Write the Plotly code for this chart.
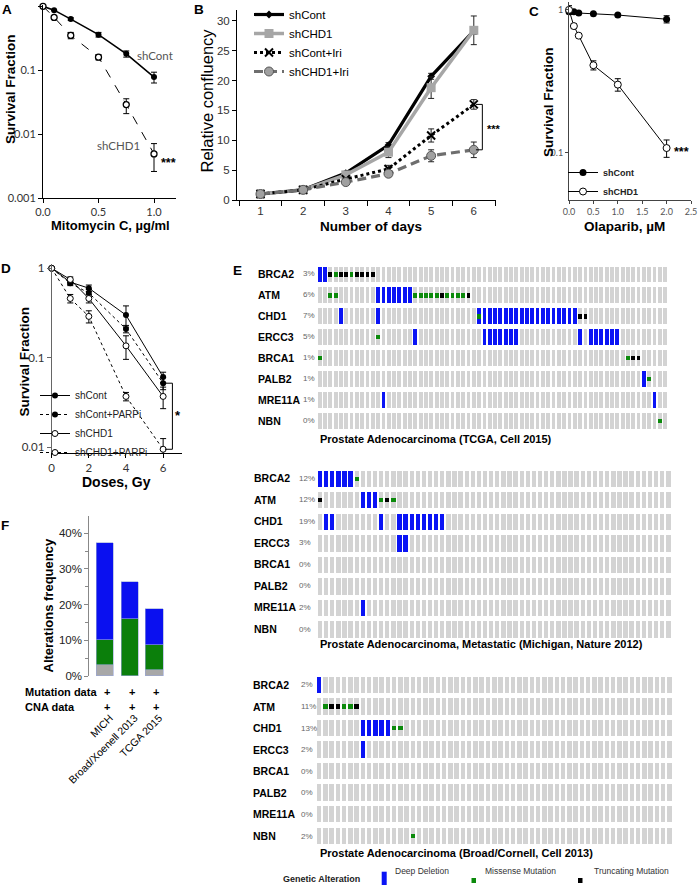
import plotly.graph_objects as go

W, H = 699, 894


def px_x(p):
    return p / W


def px_y(p):
    return 1 - p / H


def dom_x(a, b):
    return [a / W, b / W]


def dom_y(top, bottom):
    return [1 - bottom / H, 1 - top / H]


SANS = "Liberation Sans, Arial, Helvetica, sans-serif"
NARROW = "Liberation Sans Narrow, Arial Narrow, Liberation Sans, sans-serif"
TICKF = "Lato, Liberation Sans, sans-serif"

# ================= DATA =================
# --- Panel A: Mitomycin C survival
mmc_dose = [0.0, 0.1, 0.25, 0.5, 0.75, 1.0]
a_shcont = [1.0, 0.87, 0.63, 0.36, 0.18, 0.078]
a_shcont_up = [0, 0, 0.03, 0.03, 0.02, 0.015]
a_shcont_dn = [0, 0, 0.03, 0.03, 0.02, 0.015]
a_shchd1 = [1.0, 0.67, 0.35, 0.16, 0.029, 0.0049]
a_shchd1_up = [0, 0, 0.04, 0.015, 0.0067, 0.0022]
a_shchd1_dn = [0, 0, 0.04, 0.015, 0.0081, 0.0023]
a_yticks = [1, 0.1, 0.01, 0.001]
a_yticktext = ["1", "0.1", "0.01", "0.001"]
a_xticks = [0.0, 0.5, 1.0]
a_xticktext = ["0.0", "0.5", "1.0"]

# --- Panel B: relative confluency
days = [1, 2, 3, 4, 5, 6]
b_shcont = [1.0, 1.7, 4.5, 9.2, 20.7, 28.3]
b_shcont_err = [0.1, 0.1, 0.3, 0.4, 0.5, 0.6]
b_shchd1 = [1.0, 1.7, 4.2, 8.0, 18.8, 28.4]
b_shchd1_err = [0.1, 0.1, 0.3, 0.9, 1.8, 2.4]
b_shcont_iri = [1.0, 1.7, 3.5, 5.2, 10.8, 16.0]
b_shcont_iri_err = [0.1, 0.1, 0.2, 0.6, 1.1, 0.8]
b_shchd1_iri = [1.0, 1.7, 3.0, 4.4, 7.4, 8.4]
b_shchd1_iri_err = [0.1, 0.1, 0.3, 0.5, 1.0, 1.3]

# --- Panel C: Olaparib survival
ola_dose = [0.0, 0.1, 0.2, 0.5, 1.0, 2.0]
c_shcont = [0.97, 0.97, 0.95, 0.94, 0.92, 0.86]
c_shcont_err = [0.03, 0, 0, 0, 0, 0.05]
c_shchd1 = [1.0, 0.77, 0.66, 0.41, 0.30, 0.108]
c_shchd1_err = [0.07, 0.03, 0, 0.03, 0.03, 0.015]

# --- Panel D: irradiation survival
ir_dose = [0, 1, 2, 4, 6]
d_shcont = [1.0, 0.70, 0.60, 0.30, 0.061]
d_shcont_err = [0, 0.04, 0.05, 0.08, 0.008]
d_shcont_parpi = [1.0, 0.68, 0.53, 0.21, 0.052]
d_shcont_parpi_err = [0, 0.04, 0.05, 0.02, 0.008]
d_shchd1 = [1.0, 0.75, 0.46, 0.136, 0.037]
d_shchd1_err = [0, 0.05, 0.05, 0.04, 0.01]
d_shchd1_parpi = [1.0, 0.46, 0.29, 0.037, 0.0095]
d_shchd1_parpi_err = [0, 0.05, 0.045, 0.004, 0.003]

# --- Panel F: alteration frequency
f_studies = ["MICH", "Broad/Xoenell 2013", "TCGA 2015"]
f_multiple = [0.031, 0.0, 0.017]
f_mutation = [0.069, 0.159, 0.071]
f_deletion = [0.273, 0.105, 0.099]
f_mutation_data = ["+", "+", "+"]
f_cna_data = ["+", "+", "+"]

# --- Panel E: oncoprints
genes = ["BRCA2", "ATM", "CHD1", "ERCC3", "BRCA1", "PALB2", "MRE11A", "NBN"]

tcga_cases = 66
tcga_pct = ["3%", "6%", "7%", "5%", "1%", "1%", "1%", "0%"]
tcga_deep_del = {
    "BRCA2": [0, 1],
    "ATM": [11, 12, 13, 14, 15, 16, 17],
    "CHD1": [4, 11, 30, 31, 32, 33, 34, 35, 36, 37, 38, 39, 40, 41, 42, 43, 44, 45, 46, 47, 48],
    "ERCC3": [18, 31, 32, 33, 34, 35, 36, 37, 49, 51, 52, 53, 54, 55, 56],
    "PALB2": [61],
    "MRE11A": [12, 63],
}
tcga_missense = {
    "BRCA2": [3, 6],
    "ATM": [2, 3, 18, 19, 20, 21, 22, 24, 25, 26, 27],
    "CHD1": [30],
    "ERCC3": [11],
    "BRCA1": [0, 58],
    "PALB2": [62],
    "NBN": [64],
}
tcga_truncating = {
    "BRCA2": [2, 4, 5, 7, 8, 9, 10],
    "ATM": [23, 28],
    "CHD1": [49, 50],
    "BRCA1": [59, 60],
}
tcga_title = "Prostate Adenocarcinoma (TCGA, Cell 2015)"

mich_cases = 58
mich_pct = ["12%", "12%", "19%", "3%", "0%", "0%", "2%", "0%"]
mich_deep_del = {
    "BRCA2": [0, 1, 2, 3, 4, 5],
    "ATM": [7, 8, 9],
    "CHD1": [1, 2, 10, 13, 14, 15, 16, 17, 18, 19, 20],
    "ERCC3": [13, 14],
    "MRE11A": [7],
}
mich_missense = {"BRCA2": [6], "ATM": [10, 12]}
mich_truncating = {"ATM": [0, 11]}
mich_title = "Prostate Adenocarcinoma, Metastatic (Michigan, Nature 2012)"

broad_cases = 57
broad_pct = ["2%", "11%", "13%", "2%", "0%", "0%", "0%", "2%"]
broad_deep_del = {"BRCA2": [0], "CHD1": [7, 8, 9, 10, 11], "ERCC3": [7]}
broad_missense = {"ATM": [1, 4, 5], "CHD1": [12, 13], "NBN": [15]}
broad_truncating = {"ATM": [2, 3, 6]}
broad_title = "Prostate Adenocarcinoma (Broad/Cornell, Cell 2013)"

alteration_types = ["Deep Deletion", "Missense Mutation", "Truncating Mutation"]

# ================= STYLE =================
C_GREY = "#d3d3d3"
C_BLUE = "#0a14f5"
C_GREEN = "#0b8a0b"
C_BLACK = "#000000"
CELL_H = 0.76
SQ_H = 0.2
BAR_W = 0.72

fig = go.Figure()


def ebar(up, dn=None, color="black", width=3):
    d = dict(type="data", array=up, color=color, thickness=1, width=width, visible=True)
    if dn is not None:
        d["symmetric"] = False
        d["arrayminus"] = dn
    return d


# ---------- Panel A ----------
fig.add_trace(go.Scatter(
    x=mmc_dose, y=a_shcont, name="shCont", mode="lines+markers",
    line=dict(color="black", width=1.6),
    marker=dict(symbol="circle", size=6, color="black"),
    error_y=ebar(a_shcont_up, a_shcont_dn),
    xaxis="x", yaxis="y", showlegend=False, cliponaxis=False))
fig.add_trace(go.Scatter(
    x=mmc_dose, y=a_shchd1, name="shCHD1", mode="lines+markers",
    line=dict(color="black", width=1, dash="dash"),
    marker=dict(symbol="circle", size=6, color="white", line=dict(color="black", width=1.3)),
    error_y=ebar(a_shchd1_up, a_shchd1_dn),
    xaxis="x", yaxis="y", showlegend=False, cliponaxis=False))

# ---------- Panel B ----------
fig.add_trace(go.Scatter(
    x=days, y=b_shcont, name="shCont", mode="lines+markers",
    line=dict(color="black", width=3.2),
    marker=dict(symbol="diamond", size=6, color="black"),
    error_y=ebar(b_shcont_err, color="#222"),
    xaxis="x2", yaxis="y2", legend="legend", cliponaxis=False))
fig.add_trace(go.Scatter(
    x=days, y=b_shchd1, name="shCHD1", mode="lines+markers",
    line=dict(color="#a6a6a6", width=3.5),
    marker=dict(symbol="square", size=9, color="#a6a6a6"),
    error_y=ebar(b_shchd1_err, color="#222"),
    xaxis="x2", yaxis="y2", legend="legend", cliponaxis=False))
fig.add_trace(go.Scatter(
    x=days, y=b_shcont_iri, name="shCont+Iri", mode="lines+markers",
    line=dict(color="black", width=3, dash="dot"),
    marker=dict(symbol="x-thin", size=8, color="black", line=dict(color="black", width=2)),
    error_y=ebar(b_shcont_iri_err, color="#222"),
    xaxis="x2", yaxis="y2", legend="legend", cliponaxis=False))
fig.add_trace(go.Scatter(
    x=days, y=b_shchd1_iri, name="shCHD1+Iri", mode="lines+markers",
    line=dict(color="#6e6e6e", width=3.2, dash="9px,5px"),
    marker=dict(symbol="circle", size=9, color="#a0a0a0", line=dict(color="#555", width=1)),
    error_y=ebar(b_shchd1_iri_err, color="#222"),
    xaxis="x2", yaxis="y2", legend="legend", cliponaxis=False))
# significance bracket (between last points of the two Iri series)
fig.add_trace(go.Scatter(
    x=[days[-1] + 0.05, days[-1] + 0.2, days[-1] + 0.2, days[-1] + 0.05],
    y=[b_shcont_iri[-1], b_shcont_iri[-1], b_shchd1_iri[-1], b_shchd1_iri[-1]],
    mode="lines", line=dict(color="black", width=1), hoverinfo="skip",
    xaxis="x2", yaxis="y2", showlegend=False, cliponaxis=False))

# ---------- Panel C ----------
fig.add_trace(go.Scatter(
    x=ola_dose, y=c_shcont, name="shCont", mode="lines+markers",
    line=dict(color="black", width=1),
    marker=dict(symbol="circle", size=7, color="black"),
    error_y=ebar(c_shcont_err),
    xaxis="x3", yaxis="y3", legend="legend2", cliponaxis=False))
fig.add_trace(go.Scatter(
    x=ola_dose, y=c_shchd1, name="shCHD1", mode="lines+markers",
    line=dict(color="black", width=1),
    marker=dict(symbol="circle", size=7, color="white", line=dict(color="black", width=1)),
    error_y=ebar(c_shchd1_err),
    xaxis="x3", yaxis="y3", legend="legend2", cliponaxis=False))

# ---------- Panel D ----------
fig.add_trace(go.Scatter(
    x=ir_dose, y=d_shcont, name="shCont", mode="lines+markers",
    line=dict(color="black", width=1),
    marker=dict(symbol="circle", size=6, color="black"),
    error_y=ebar(d_shcont_err),
    xaxis="x4", yaxis="y4", legend="legend3", cliponaxis=False))
fig.add_trace(go.Scatter(
    x=ir_dose, y=d_shcont_parpi, name="shCont+PARPi", mode="lines+markers",
    line=dict(color="black", width=1, dash="dot"),
    marker=dict(symbol="circle", size=6, color="black"),
    error_y=ebar(d_shcont_parpi_err),
    xaxis="x4", yaxis="y4", legend="legend3", cliponaxis=False))
fig.add_trace(go.Scatter(
    x=ir_dose, y=d_shchd1, name="shCHD1", mode="lines+markers",
    line=dict(color="black", width=1),
    marker=dict(symbol="circle", size=6, color="white", line=dict(color="black", width=1)),
    error_y=ebar(d_shchd1_err),
    xaxis="x4", yaxis="y4", legend="legend3", cliponaxis=False))
fig.add_trace(go.Scatter(
    x=ir_dose, y=d_shchd1_parpi, name="shCHD1+PARPi", mode="lines+markers",
    line=dict(color="black", width=1, dash="dot"),
    marker=dict(symbol="circle", size=6, color="white", line=dict(color="black", width=1)),
    error_y=ebar(d_shchd1_parpi_err),
    xaxis="x4", yaxis="y4", legend="legend3", cliponaxis=False))
fig.add_trace(go.Scatter(
    x=[ir_dose[-1] + 0.1, ir_dose[-1] + 0.5, ir_dose[-1] + 0.5, ir_dose[-1] + 0.1],
    y=[d_shcont_parpi[-1], d_shcont_parpi[-1], d_shchd1_parpi[-1], d_shchd1_parpi[-1]],
    mode="lines", line=dict(color="black", width=1), hoverinfo="skip",
    xaxis="x4", yaxis="y4", showlegend=False, cliponaxis=False))

# ---------- Panel F ----------
f_pos = list(range(len(f_studies)))
for vals, col, nm in [(f_multiple, "#a8a8a8", "Multiple alterations"),
                      (f_mutation, "#0b7f0b", "Mutation"),
                      (f_deletion, "#0a10f0", "Deletion")]:
    fig.add_trace(go.Bar(
        x=f_pos, y=vals, name=nm, width=0.7,
        marker=dict(color=col, line=dict(color="#9aa6d8", width=0.6)),
        xaxis="x5", yaxis="y5", showlegend=False))

# ---------- Panel E: oncoprints ----------
oncoprints = [
    dict(xa="x6", ya="y6", n=tcga_cases, pct=tcga_pct, deep=tcga_deep_del,
         mis=tcga_missense, trunc=tcga_truncating, title=tcga_title),
    dict(xa="x7", ya="y7", n=mich_cases, pct=mich_pct, deep=mich_deep_del,
         mis=mich_missense, trunc=mich_truncating, title=mich_title),
    dict(xa="x8", ya="y8", n=broad_cases, pct=broad_pct, deep=broad_deep_del,
         mis=broad_missense, trunc=broad_truncating, title=broad_title),
]

for op in oncoprints:
    gx, gb = [], []
    for r in range(len(genes)):
        for c in range(op["n"]):
            gx.append(c)
            gb.append(r - CELL_H / 2)
    fig.add_trace(go.Bar(
        x=gx, y=[CELL_H] * len(gx), base=gb, width=BAR_W,
        marker=dict(color=C_GREY, line=dict(width=0)),
        xaxis=op["xa"], yaxis=op["ya"], showlegend=False, hoverinfo="skip"))
    for cases, col, hgt in [(op["deep"], C_BLUE, CELL_H),
                            (op["mis"], C_GREEN, SQ_H),
                            (op["trunc"], C_BLACK, SQ_H)]:
        xs, bs = [], []
        for r, g in enumerate(genes):
            for c in cases.get(g, []):
                xs.append(c)
                bs.append(r - hgt / 2)
        if xs:
            fig.add_trace(go.Bar(
                x=xs, y=[hgt] * len(xs), base=bs, width=BAR_W,
                marker=dict(color=col, line=dict(width=0)),
                xaxis=op["xa"], yaxis=op["ya"], showlegend=False, hoverinfo="skip"))

# ================= LAYOUT =================


def ax(**kw):
    d = dict(showgrid=False, zeroline=False, showline=True, linecolor="black", linewidth=1,
             ticks="outside", ticklen=4, tickwidth=1, tickcolor="black", automargin=False)
    d.update(kw)
    return d


layout_axes = dict(
    xaxis=ax(domain=dom_x(43, 176.2), range=[0, 1.2], anchor="y",
             tickmode="array", tickvals=a_xticks, ticktext=a_xticktext,
             tickfont=dict(family=TICKF, size=11, color="#333")),
    yaxis=ax(domain=dom_y(5, 198), type="log", range=[-3, 0.02], anchor="x",
             tickmode="array", tickvals=a_yticks, ticktext=a_yticktext,
             tickfont=dict(family=TICKF, size=11, color="#333")),
    xaxis2=ax(domain=dom_x(237, 496), range=[0.45, 6.52], anchor="y2",
              tickmode="array", tickvals=days, ticks="",
              minor=dict(tickmode="linear", tick0=0.5, dtick=1, ticks="outside",
                         ticklen=5, tickcolor="black", tickwidth=1),
              tickfont=dict(family=SANS, size=11.5, color="#333")),
    yaxis2=ax(domain=dom_y(10, 200), range=[0, 31.8], anchor="x2",
              tickmode="linear", tick0=0, dtick=5,
              tickfont=dict(family=SANS, size=11.5, color="#333")),
    xaxis3=ax(domain=dom_x(569, 691), range=[0, 2.5], anchor="y3",
              tickmode="linear", tick0=0, dtick=0.5, tickformat=".1f", ticklen=3,
              linecolor="#444", tickcolor="#444",
              tickfont=dict(family=TICKF, size=9, color="#555")),
    yaxis3=ax(domain=dom_y(2, 200), type="log", range=[-1.33, 0.055], anchor="x3",
              tickmode="array", tickvals=[1, 0.1], ticktext=["1", "0.1"], ticklen=3,
              linecolor="#444", tickcolor="#444",
              tickfont=dict(family=TICKF, size=9, color="#555")),
    xaxis4=ax(domain=dom_x(51.7, 181.7), range=[0, 7], anchor="y4",
              tickmode="array", tickvals=[0, 2, 4, 6],
              tickfont=dict(family=TICKF, size=11.5, color="#333")),
    yaxis4=ax(domain=dom_y(264, 453), type="log", range=[-2.064, 0.048], anchor="x4",
              tickmode="array", tickvals=[1, 0.1, 0.01], ticktext=["1", "0.1", "0.01"],
              linecolor="#666", tickcolor="#666",
              tickfont=dict(family=TICKF, size=11.5, color="#333")),
    xaxis5=dict(domain=dom_x(89.3, 169), range=[-0.637, 2.6], anchor="y5",
                showgrid=False, zeroline=False, showline=False, ticks="", automargin=False,
                tickmode="array", tickvals=f_pos, ticktext=f_studies, tickangle=-45,
                ticklabelstandoff=33, ticklabelshift=5,
                tickfont=dict(family=SANS, size=10.5, color="black")),
    yaxis5=ax(domain=dom_y(516, 676), range=[0, 0.448], anchor="x5",
              tickmode="linear", tick0=0, dtick=0.1, tickformat=".0%",
              linecolor="#888", tickcolor="#888",
              minor=dict(tickmode="linear", tick0=0.05, dtick=0.1, ticks="outside",
                         ticklen=3, tickcolor="#888"),
              tickfont=dict(family=SANS, size=11.5, color="#222")),
)

op_domains = [
    (dom_x(316.9, 667.7), dom_y(263.5, 431.2)),
    (dom_x(317.3, 671.7), dom_y(467.5, 639.8)),
    (dom_x(316.0, 672.5), dom_y(674.2, 846.8)),
]
for i, (op, (dx, dy)) in enumerate(zip(oncoprints, op_domains)):
    k = 6 + i
    layout_axes[f"xaxis{k}"] = dict(domain=dx, range=[-0.5, op["n"] - 0.5],
                                    anchor=f"y{k}", visible=False, automargin=False)
    layout_axes[f"yaxis{k}"] = dict(domain=dy, range=[len(genes) - 0.5, -0.5],
                                    anchor=f"x{k}", visible=False, automargin=False)

ann = []


def T(text, x, y, size=11, color="black", family=SANS, xanchor="center",
      yanchor="middle", angle=0, xref="paper", yref="paper", xshift=0):
    ann.append(dict(text=text, x=x, y=y, xref=xref, yref=yref, showarrow=False,
                    font=dict(family=family, size=size, color=color),
                    xanchor=xanchor, yanchor=yanchor, textangle=angle, xshift=xshift))


# panel letters
for letter, lx, ly in [("A", 6.5, 9), ("B", 199, 10), ("C", 533.5, 12),
                       ("D", 6, 268), ("E", 237.5, 270), ("F", 5, 525)]:
    T(f"<b>{letter}</b>", px_x(lx), px_y(ly), size=13.5)

# axis titles
T("<b>Survival Fraction</b>", px_x(11), px_y(89), size=13.5, family=NARROW, angle=-90)
T("<b>Mitomycin C, µg/ml</b>", px_x(111), px_y(225), size=13)
T("Relative confluency", px_x(206.5), px_y(101), size=16.5, angle=-90)
T("<b>Number of days</b>", px_x(370.5), px_y(226), size=13.5)
T("<b>Survival Fraction</b>", px_x(548.5), px_y(102.5), size=13.5, angle=-90)
T("<b>Olaparib, µM</b>", px_x(624), px_y(226), size=13.5)
T("<b>Survival Fraction</b>", px_x(24), px_y(361.5), size=13.5, angle=-90)
T("<b>Doses, Gy</b>", px_x(116.7), px_y(482), size=14)
T("<b>Alterations frequency</b>", px_x(47.5), px_y(605), size=13, angle=-90)

# in-plot labels
T("shCont", px_x(154.5), px_y(55), size=11.5, color="#555", family=TICKF)
T("shCHD1", px_x(118), px_y(145), size=11.5, color="#555", family=TICKF)
T("<b>***</b>", px_x(168), px_y(163), size=12.5)
T("<b>***</b>", px_x(494), px_y(129), size=11)
T("<b>***</b>", px_x(681), px_y(152), size=12.5)
T("<b>*</b>", px_x(177.5), px_y(416), size=13)

# panel F data rows
T("<b>Mutation data</b>", px_x(23), px_y(691.7), size=11, xanchor="left")
T("<b>CNA data</b>", px_x(23), px_y(706.7), size=11, xanchor="left")
for i in f_pos:
    T(f"<b>{f_mutation_data[i]}</b>", i, px_y(691.7), size=11, xref="x5", xshift=2)
    T(f"<b>{f_cna_data[i]}</b>", i, px_y(706.7), size=11, xref="x5", xshift=2)

# oncoprint labels
label_x = [(255.7, 301.0, 317.5, 438.5), (251.7, 297.3, 318.0, 643.5), (251.3, 299.3, 318.3, 852.7)]
for i, (op, (gxp, pxp, tx, ty)) in enumerate(zip(oncoprints, label_x)):
    k = 6 + i
    for r, g in enumerate(genes):
        T(f"<b>{g}</b>", px_x(gxp), r, size=10.5, xanchor="left", yref=f"y{k}")
        T(op["pct"][r], px_x(pxp), r, size=8, color="#666", xanchor="left", yref=f"y{k}")
    T(f"<b>{op['title']}</b>", px_x(tx), px_y(ty), size=11, xanchor="left")

# oncoprint legend
T("<b>Genetic Alteration</b>", px_x(281), px_y(879), size=9, xanchor="left", color="#222")
legend_items = [(alteration_types[0], C_BLUE, 381.7, 386.7, 871.7, 885.0, 393.0),
                (alteration_types[1], C_GREEN, 471.5, 476.0, 878.0, 883.0, 483.3),
                (alteration_types[2], C_BLACK, 578.0, 582.5, 878.0, 883.0, 591.7)]
shapes = []
for name, col, x0, x1, y0, y1, tx in legend_items:
    shapes.append(dict(type="rect", xref="paper", yref="paper",
                       x0=px_x(x0), x1=px_x(x1), y0=px_y(y1), y1=px_y(y0),
                       fillcolor=col, line=dict(width=0)))
    T(name, px_x(tx), px_y(870.5), size=8.5, color="#333", xanchor="left")

fig.update_layout(
    template="none",
    width=W, height=H, margin=dict(l=0, r=0, t=0, b=0, pad=0, autoexpand=False),
    paper_bgcolor="white", plot_bgcolor="rgba(0,0,0,0)",
    barmode="stack", bargap=0, showlegend=True,
    font=dict(family=SANS),
    legend=dict(x=px_x(249), y=1.0, xanchor="left", yanchor="top",
                bgcolor="rgba(0,0,0,0)", tracegroupgap=0, traceorder="normal",
                font=dict(family=SANS, size=11.5, color="black")),
    legend2=dict(x=px_x(563), y=px_y(158), xanchor="left", yanchor="top",
                 bgcolor="rgba(0,0,0,0)", tracegroupgap=0, traceorder="normal",
                 font=dict(family=SANS, size=9, color="#222", weight="bold")),
    legend3=dict(x=px_x(35), y=px_y(381), xanchor="left", yanchor="top",
                 bgcolor="rgba(0,0,0,0)", tracegroupgap=0, traceorder="normal",
                 font=dict(family=SANS, size=10, color="#222")),
    annotations=ann, shapes=shapes,
    **layout_axes,
)

fig.write_html(
    "out.html",
    config={"displayModeBar": False},
    post_script="document.body.style.margin='0px';document.body.style.overflow='hidden';",
)
